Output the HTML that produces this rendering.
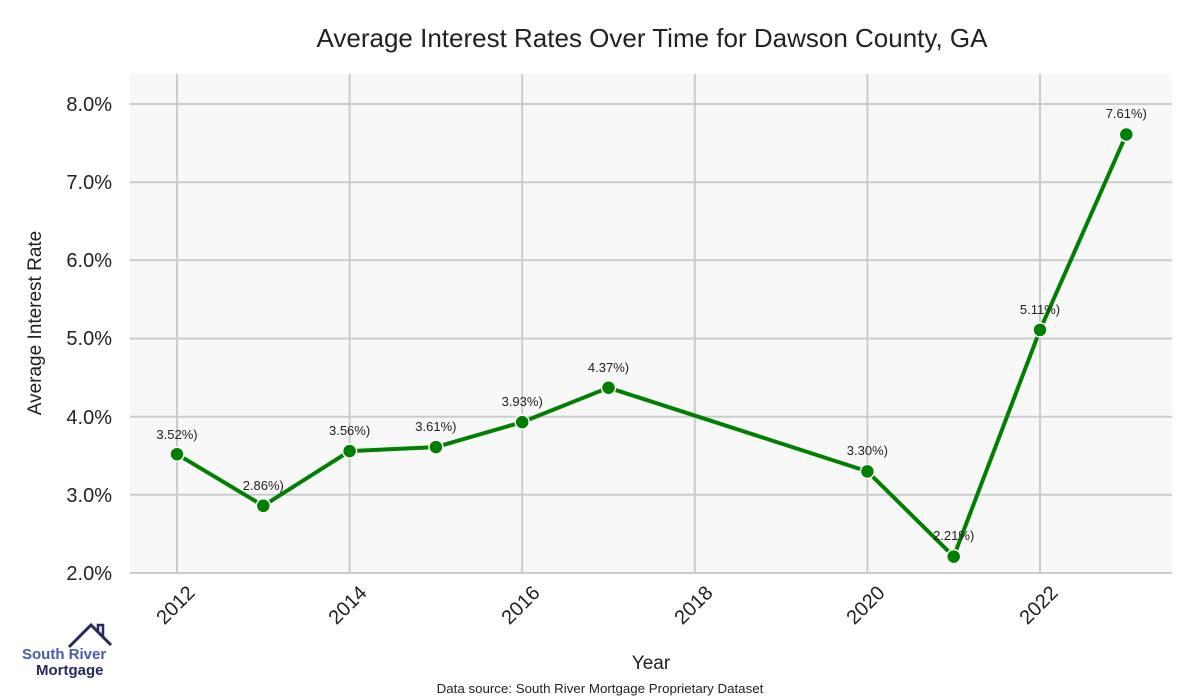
<!DOCTYPE html>
<html><head><style>body{margin:0;background:#fff}svg{display:block}text{font-family:"Liberation Sans",sans-serif}</style></head><body>
<svg width="1200" height="700" viewBox="0 0 1200 700">
<rect width="1200" height="700" fill="#fff"/>
<text x="652" y="47" font-size="26" text-anchor="middle" fill="#222">Average Interest Rates Over Time for Dawson County, GA</text>
<rect x="130" y="74" width="1042" height="499" fill="#f8f8f8"/>
<g stroke="#cccccc" stroke-width="2">
<line x1="177" y1="74" x2="177" y2="573"/><line x1="349.6" y1="74" x2="349.6" y2="573"/><line x1="522.2" y1="74" x2="522.2" y2="573"/><line x1="694.8" y1="74" x2="694.8" y2="573"/><line x1="867.4" y1="74" x2="867.4" y2="573"/><line x1="1040" y1="74" x2="1040" y2="573"/>
<line x1="130" y1="104" x2="1172" y2="104"/><line x1="130" y1="182.2" x2="1172" y2="182.2"/><line x1="130" y1="260.3" x2="1172" y2="260.3"/><line x1="130" y1="338.5" x2="1172" y2="338.5"/><line x1="130" y1="416.7" x2="1172" y2="416.7"/><line x1="130" y1="494.8" x2="1172" y2="494.8"/><line x1="130" y1="573" x2="1172" y2="573"/>
</g>
<g font-size="20" fill="#222" text-anchor="end">
<text x="112" y="111">8.0%</text><text x="112" y="189">7.0%</text><text x="112" y="267">6.0%</text><text x="112" y="345">5.0%</text><text x="112" y="424">4.0%</text><text x="112" y="502">3.0%</text><text x="112" y="580">2.0%</text>
</g>
<g font-size="20" fill="#222" text-anchor="end">
<text transform="translate(196,594) rotate(-45)">2012</text>
<text transform="translate(368,594) rotate(-45)">2014</text>
<text transform="translate(541,594) rotate(-45)">2016</text>
<text transform="translate(714,594) rotate(-45)">2018</text>
<text transform="translate(886,594) rotate(-45)">2020</text>
<text transform="translate(1059,594) rotate(-45)">2022</text>
</g>
<text x="651" y="669" font-size="19" text-anchor="middle" fill="#222">Year</text>
<text transform="translate(41,323) rotate(-90)" font-size="19" text-anchor="middle" fill="#222">Average Interest Rate</text>
<polyline fill="none" stroke="#008000" stroke-width="4" stroke-linejoin="round" points="177,454.2 263.3,505.8 349.6,451.1 435.9,447.1 522.2,422.1 608.5,387.7 867.4,471.4 953.7,556.6 1040,329.9 1126.3,134.5"/>
<g fill="#008000" stroke="#fff" stroke-width="1.5">
<circle cx="177" cy="454.2" r="7"/><circle cx="263.3" cy="505.8" r="7"/><circle cx="349.6" cy="451.1" r="7"/><circle cx="435.9" cy="447.1" r="7"/><circle cx="522.2" cy="422.1" r="7"/><circle cx="608.5" cy="387.7" r="7"/><circle cx="867.4" cy="471.4" r="7"/><circle cx="953.7" cy="556.6" r="7"/><circle cx="1040" cy="329.9" r="7"/><circle cx="1126.3" cy="134.5" r="7"/>
</g>
<g font-size="13" fill="#222" text-anchor="middle">
<text x="177" y="439">3.52%)</text><text x="263.3" y="490">2.86%)</text><text x="349.6" y="435">3.56%)</text><text x="435.9" y="431">3.61%)</text><text x="522.2" y="406">3.93%)</text><text x="608.5" y="372">4.37%)</text><text x="867.4" y="455">3.30%)</text><text x="953.7" y="540">2.21%)</text><text x="1040" y="314">5.11%)</text><text x="1126.3" y="118">7.61%)</text>
</g>
<text x="600" y="693" font-size="13.3" text-anchor="middle" fill="#222">Data source: South River Mortgage Proprietary Dataset</text>
<polyline fill="none" stroke="#26295e" stroke-width="3" points="69,647 91,625 111,645"/>
<polyline fill="none" stroke="#26295e" stroke-width="2.5" points="98,632 98,625 103,625 103,637"/>
<text x="22" y="659" font-size="15" font-weight="bold" fill="#4a5bab">South River</text>
<text x="36" y="675" font-size="15" font-weight="bold" fill="#26295e">Mortgage</text>
</svg>
</body></html>
